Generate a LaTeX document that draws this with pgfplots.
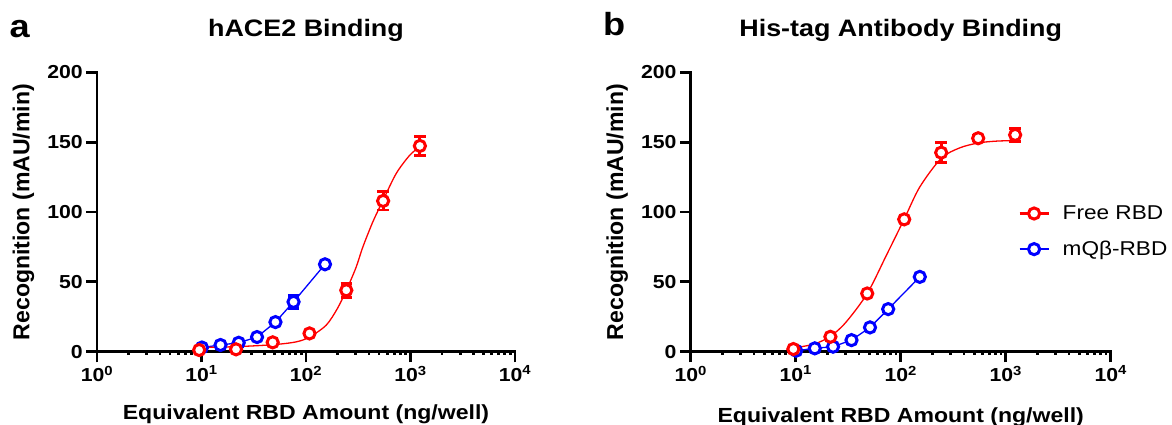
\documentclass[border=0pt]{standalone}
\usepackage{fontspec}
\setmainfont{Liberation Sans}[FakeStretch=1.13]
\usepackage{graphicx}
\usepackage{pgfplots}
\usepackage{pgfplotstable}
\pgfplotsset{compat=1.18}

\pgfplotstableread{
x y e
9.5 1.2 0.8
21.4 1.7 0.8
48 6.7 1
108 13.1 1.2
243 44 5
547 108 6.5
1230 147.4 7
}\redA
\pgfplotstableread{
x y e
10.1 3.0 0.8
15.2 4.8 0.8
22.7 6.4 1
34 10.5 1
51 21.2 2
76 35.7 4.5
152 62.6 1.5
}\blueA
\pgfplotstableread{
x y
9.5 3.0
21.4 3.6
48 5.0
80 7.0
108 10.5
156 19
200 31
243 44
300 60
350 75
436 93
547 108.5
728 127.5
977 140.5
1230 147
}\fitA
\pgfplotstableread{
x y e
9.5 1.9 0.8
21.4 10.7 1
48 41.7 1.5
108 94.8 1.5
243 142.6 7
547 152.9 2
1230 155.3 4.5
}\redB
\pgfplotstableread{
x y e
10.1 0.7 0.5
15.2 2.4 0.5
22.7 3.6 0.8
34 8.3 0.8
51 17.4 1
76 30.5 1.5
152 53.6 1
}\blueB
\pgfplotstableread{
x y
9.5 2.6
15 5.5
21.4 11
30 21
48 41.7
73 69
108 95
152 118
243 138.5
365 146
547 149.5
800 150.8
1230 151.3
}\fitB

\tikzset{
  mkR/.style={draw=red, fill=white, line width=3pt, solid},
  mkB/.style={draw=blue, fill=white, line width=3pt, solid},
}

\begin{document}
\begin{tikzpicture}
\path[use as bounding box] (0pt,0pt) rectangle (1172pt,425pt);

\node[anchor=base west, inner sep=0pt, font=\fontsize{32}{36}\selectfont\bfseries] at (9.3pt,387.7pt) {a};
\node[anchor=base west, inner sep=0pt, font=\fontsize{32}{36}\selectfont\bfseries] at (603pt,389pt) {b};

\pgfplotsset{
  every axis/.append style={
    scale only axis,
    height=279.2pt,
    xmode=log, xmin=1, xmax=10000, ymin=0, ymax=200,
    axis x line=bottom, axis y line=left,
    axis line style={-, line width=2.8pt, line cap=rect, black},
    xtick={1,10,100,1000,10000},
    xticklabels={10\textsuperscript{0},10\textsuperscript{1},10\textsuperscript{2},10\textsuperscript{3},10\textsuperscript{4}},
    minor xtick={},
    ytick={0,50,100,150,200},
    yticklabels={0,50,100,150,200},
    tick align=outside,
    major tick length=10.7pt,
    tick style={black, line width=2.8pt},
    tick label style={font=\fontsize{18.8}{22}\selectfont\bfseries},
    label style={font=\fontsize{20.4}{24}\selectfont\bfseries},
    title style={font=\fontsize{23.8}{28}\selectfont\bfseries, at={(axis description cs:0.5,1.1092)}, anchor=base},
    clip=false,
  },
}

\begin{axis}[width=418pt, at={(97pt,73.3pt)}, anchor=south west,
  title={hACE2 Binding},
  xlabel={Equivalent RBD Amount (ng/well)},
  ylabel={\scalebox{1}[1.13]{Recognition (mAU/min)}},
  xlabel style={at={(axis description cs:0.5,-0.2418)}, anchor=base},
  ylabel style={at={(axis description cs:-0.1615,0.5)}, anchor=base},
]
\addplot[forget plot, mark=none, draw=none,
  error bars/y dir=both, error bars/y explicit,
  error bars/error bar style={draw=blue, line width=2.8pt, solid},
  error bars/error mark options={draw=blue, rotate=90, mark size=5.7pt, line width=2.8pt}]
  table[x=x,y=y,y error=e]{\blueA};
\addplot[forget plot, blue, line width=1.3pt, mark=*, mark size=5.6pt,
  mark options={mkB}]
  table[x=x,y=y]{\blueA};
\addplot[forget plot, red, line width=1.3pt, smooth, mark=none] table[x=x,y=y]{\fitA};
\addplot[forget plot, mark=none, draw=none,
  error bars/y dir=both, error bars/y explicit,
  error bars/error bar style={draw=red, line width=2.8pt, solid},
  error bars/error mark options={draw=red, rotate=90, mark size=5.7pt, line width=2.8pt}]
  table[x=x,y=y,y error=e]{\redA};
\addplot[forget plot, red, line width=3pt, only marks, mark=*, mark size=5.6pt,
  mark options={mkR}]
  table[x=x,y=y]{\redA};
\end{axis}

\begin{axis}[width=420pt, at={(690.7pt,73.3pt)}, anchor=south west,
  title={His-tag Antibody Binding},
  xlabel={Equivalent RBD Amount (ng/well)},
  ylabel={\scalebox{1}[1.13]{Recognition (mAU/min)}},
  xlabel style={at={(axis description cs:0.5,-0.2543)}, anchor=base},
  ylabel style={at={(axis description cs:-0.1607,0.5)}, anchor=base},
  legend style={draw=none, fill=none, inner sep=0pt, at={(0.78,0.4305)}, anchor=west,
    font=\fontsize{20}{24}\selectfont, row sep=16pt,
    /tikz/every odd column/.append style={column sep=11pt}},
  legend cell align=left,
  legend image code/.code={\draw[mark repeat=2,mark phase=2,#1] plot coordinates {(0pt,0pt) (14.5pt,0pt) (29pt,0pt)};},
]
\addlegendimage{red, line width=2.2pt, mark=*, mark size=5.6pt, mark options={mkR}}
\addlegendimage{blue, line width=2.2pt, mark=*, mark size=5.6pt, mark options={mkB}}
\legend{Free RBD, mQβ-RBD}
\addplot[forget plot, mark=none, draw=none,
  error bars/y dir=both, error bars/y explicit,
  error bars/error bar style={draw=blue, line width=2.8pt, solid},
  error bars/error mark options={draw=blue, rotate=90, mark size=5.7pt, line width=2.8pt}]
  table[x=x,y=y,y error=e]{\blueB};
\addplot[forget plot, blue, line width=1.3pt, mark=*, mark size=5.6pt,
  mark options={mkB}]
  table[x=x,y=y]{\blueB};
\addplot[forget plot, red, line width=1.3pt, smooth, mark=none] table[x=x,y=y]{\fitB};
\addplot[forget plot, mark=none, draw=none,
  error bars/y dir=both, error bars/y explicit,
  error bars/error bar style={draw=red, line width=2.8pt, solid},
  error bars/error mark options={draw=red, rotate=90, mark size=5.7pt, line width=2.8pt}]
  table[x=x,y=y,y error=e]{\redB};
\addplot[forget plot, red, line width=3pt, only marks, mark=*, mark size=5.6pt,
  mark options={mkR}]
  table[x=x,y=y]{\redB};
\end{axis}
\end{tikzpicture}
\end{document}
